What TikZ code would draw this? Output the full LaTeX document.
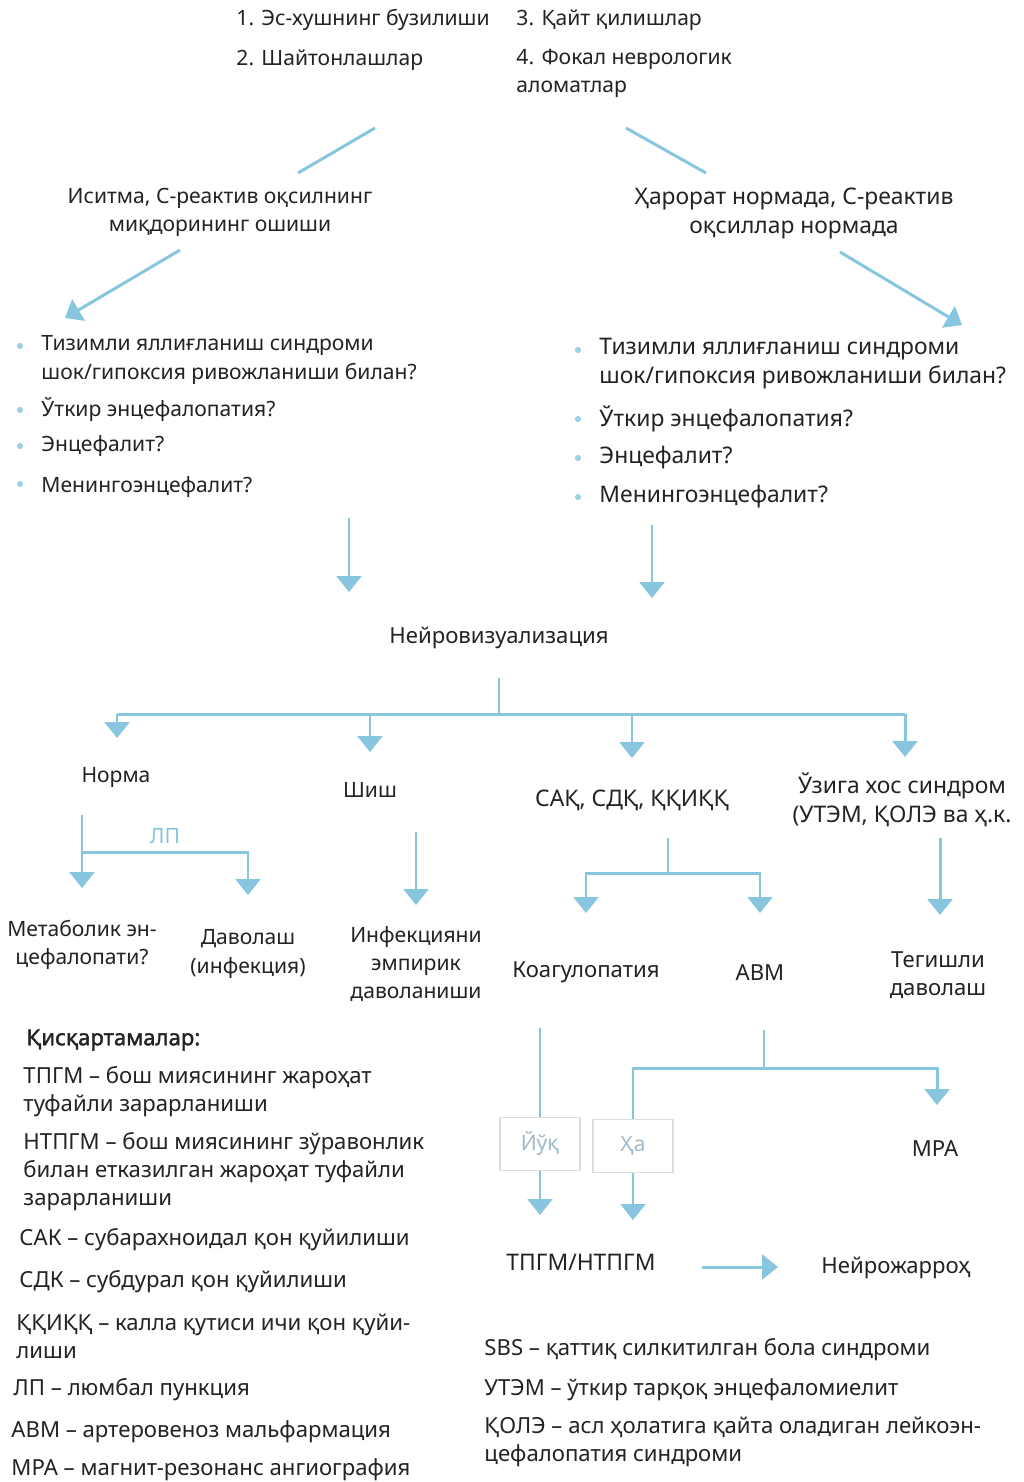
\documentclass[tikz,border=0pt]{standalone}
\usepackage{fontspec}
\setmainfont{Noto Sans}
\newfontfamily\headfont{Noto Sans}[FakeBold=1.6]
\usetikzlibrary{arrows.meta}
\definecolor{flowblue}{RGB}{135,198,222}
\definecolor{inkgray}{RGB}{35,35,35}
\definecolor{boxgray}{RGB}{222,222,222}
\definecolor{boxtext}{RGB}{160,186,204}

\begin{document}
\begin{tikzpicture}[x=0.02cm, y=-0.02cm, >={Triangle[width=14pt,length=9pt]}, line width=1.7pt, flowblue]
                \tikzstyle{every node}=[text=inkgray, font=\fontsize{12}{16}\selectfont]
                \tikzstyle{big}=[font=\fontsize{13}{16.5}\selectfont]
                \tikzstyle{mid}=[font=\fontsize{12.6}{15.9}\selectfont]
                \tikzstyle{txt}=[align=center, inner sep=0pt]
                \tikzstyle{item}=[anchor=west, align=left, inner sep=0pt]
                \tikzstyle{blt}=[circle, fill=flowblue!80, inner sep=0pt, minimum size=3.5pt]
                \tikzstyle{answer}=[draw=boxgray, line width=0.8pt, text=boxtext, minimum width=1.6cm, minimum height=1.05cm]

                \fill[white] (0,0) rectangle (1024,1482);
                \useasboundingbox (0,0) rectangle (1024,1482);

                % Define the symptoms
                \node[item] (s1) at (235,20) {1. Эс-хушнинг бузилиши};
                \node[item] (s3) at (515,20) {3. Қайт қилишлар};
                \node[item] (s2) at (235,60) {2. Шайтонлашлар};
                \node[item] (s4) at (515,73) {4. Фокал неврологик\\аломатлар};

                \node[txt] (fever) at (220,212) {Иситма, С-реактив оқсилнинг\\миқдорининг ошиши};
                \node[txt, big] (normal) at (794,213) {Ҳарорат нормада, С-реактив\\оқсиллар нормада};

                % Define the questions
                \node[item] (lq1) at (40,360) {Тизимли яллиғланиш синдроми\\шок/гипоксия ривожланиши билан?};
                \node[item] (lq2) at (40,410) {Ўткир энцефалопатия?};
                \node[item] (lq3) at (40,446) {Энцефалит?};
                \node[item] (lq4) at (40,487) {Менингоэнцефалит?};
                \node[item, big] (rq1) at (598,364) {Тизимли яллиғланиш синдроми\\шок/гипоксия ривожланиши билан?};
                \node[item, big] (rq2) at (598,419) {Ўткир энцефалопатия?};
                \node[item, big] (rq3) at (598,458) {Энцефалит?};
                \node[item, big] (rq4) at (598,497) {Менингоэнцефалит?};
                \node[blt] (lb1) at (20,346) {};
                \node[blt] (lb2) at (20,410) {};
                \node[blt] (lb3) at (20,446) {};
                \node[blt] (lb4) at (20,484) {};
                \node[blt] (rb1) at (578,350) {};
                \node[blt] (rb2) at (578,419) {};
                \node[blt] (rb3) at (578,458) {};
                \node[blt] (rb4) at (578,497) {};

                \node[txt, mid] (neuro) at (499,638) {Нейровизуализация};

                % Define the findings
                \node[txt] (norma) at (116,777) {Норма};
                \node[txt] (shish) at (370,790) {Шиш};
                \node[txt, big] (sak) at (632,800) {САҚ, СДҚ, ҚҚИҚҚ};
                \node[txt, big] (spec) at (902,800) {Ўзига хос синдром\\(УТЭМ, ҚОЛЭ ва ҳ.к.};
                \node[txt, text=flowblue] (lp) at (165,836) {ЛП};

                \node[txt] (metab) at (82,945) {Метаболик эн-\\цефалопати?};
                \node[txt] (treat) at (248,954) {Даволаш\\(инфекция)};
                \node[txt] (empir) at (416,964) {Инфекцияни\\эмпирик\\даволаниши};
                \node[txt, mid] (coag) at (586,972) {Коагулопатия};
                \node[txt, mid] (avm) at (760,973) {АВМ};
                \node[txt, mid] (proper) at (938,975) {Тегишли\\даволаш};

                \node[answer] (no) at (540,1144) {Йўқ};
                \node[answer] (yes) at (633,1146) {Ҳа};
                \node[txt, mid] (mra) at (935,1149) {МРА};
                \node[txt, big] (tpgm) at (581,1262) {ТПГМ/НТПГМ};
                \node[txt, mid] (surg) at (896,1268) {Нейрожарроҳ};

                % Abbreviations
                \node[item, mid] (abbr) at (25,1040) {\headfont Қисқартамалар:};
                \node[item, mid] (a1) at (22,1092) {ТПГМ – бош миясининг жароҳат\\туфайли зарарланиши};
                \node[item, mid] (a2) at (22,1172) {НТПГМ – бош миясининг зўравонлик\\билан етказилган жароҳат туфайли\\зарарланиши};
                \node[item, mid] (a3) at (18,1240) {САК – субарахноидал қон қуйилиши};
                \node[item, mid] (a4) at (18,1282) {СДК – субдурал қон қуйилиши};
                \node[item, mid] (a5) at (15,1336) {ҚҚИҚҚ – калла қутиси ичи қон қуйи-\\лиши};
                \node[item, mid] (a6) at (12,1390) {ЛП – люмбал пункция};
                \node[item, mid] (a7) at (10,1432) {АВМ – артеровеноз мальфармация};
                \node[item, mid] (a8) at (10,1470) {МРА – магнит-резонанс ангиография};
                \node[item, mid] (a9) at (483,1350) {SBS – қаттиқ силкитилган бола синдроми};
                \node[item, mid] (a10) at (483,1390) {УТЭМ – ўткир тарқоқ энцефаломиелит};
                \node[item, mid] (a11) at (483,1442) {ҚОЛЭ – асл ҳолатига қайта оладиган лейкоэн-\\цефалопатия синдроми};

                % Joints of the connectors
                \coordinate (j1) at (375,128);  \coordinate (j2) at (298,173);
                \coordinate (j3) at (626,128);  \coordinate (j4) at (706,173);
                \coordinate (j5) at (180,250);  \coordinate (j6) at (65,318);
                \coordinate (j7) at (840,252);  \coordinate (j8) at (962,325);
                \coordinate (j9) at (349,518);  \coordinate (j10) at (349,592);
                \coordinate (j11) at (652,525); \coordinate (j12) at (652,598);
                \coordinate (top) at (499,678); \coordinate (bus) at (499,714);
                \coordinate (nd) at (82,815);   \coordinate (lpbus) at (82,852);
                \coordinate (sd) at (668,838);  \coordinate (sbus) at (668,873);
                \coordinate (cd) at (540,1028);
                \coordinate (ad) at (764,1030); \coordinate (abus) at (764,1068);

                % Connect the boxes with arrows
                \draw (j1) -- (j2);
                \draw (j3) -- (j4);
                \draw[->] (j5) -- (j6);
                \draw[->] (j7) -- (j8);
                \draw[->] (j9) -- (j10);
                \draw[->] (j11) -- (j12);

                \draw (top) -- (bus);
                \draw (bus -| 117,0) -- (bus -| 905,0);
                \draw[->] (bus -| 117,0) -- (117,738);
                \draw[->] (bus -| 370,0) -- (370,752);
                \draw[->] (bus -| 632,0) -- (632,758);
                \draw[->] (bus -| 905,0) -- (905,757);

                \draw[->] (nd) -- (82,888);
                \draw[->] (lpbus) -| (248,895);
                \draw[->] (416,832) -- (416,905);
                \draw (sd) -- (sbus);
                \draw[->] (sbus) -| (586,913);
                \draw[->] (sbus) -| (760,913);
                \draw[->] (940,838) -- (940,915);

                \draw (cd) -- (no.north);
                \draw[->] (no.south) -- (no.south |- 0,1215);
                \draw (ad) -- (abus);
                \draw (abus) -| (yes.north);
                \draw[->] (abus) -| (937,1105);
                \draw[->] (yes.south) -- (yes.south |- 0,1220);
                \draw[->] (tpgm.east) ++(45,5) -- (778,1267);
\end{tikzpicture}
\end{document}
